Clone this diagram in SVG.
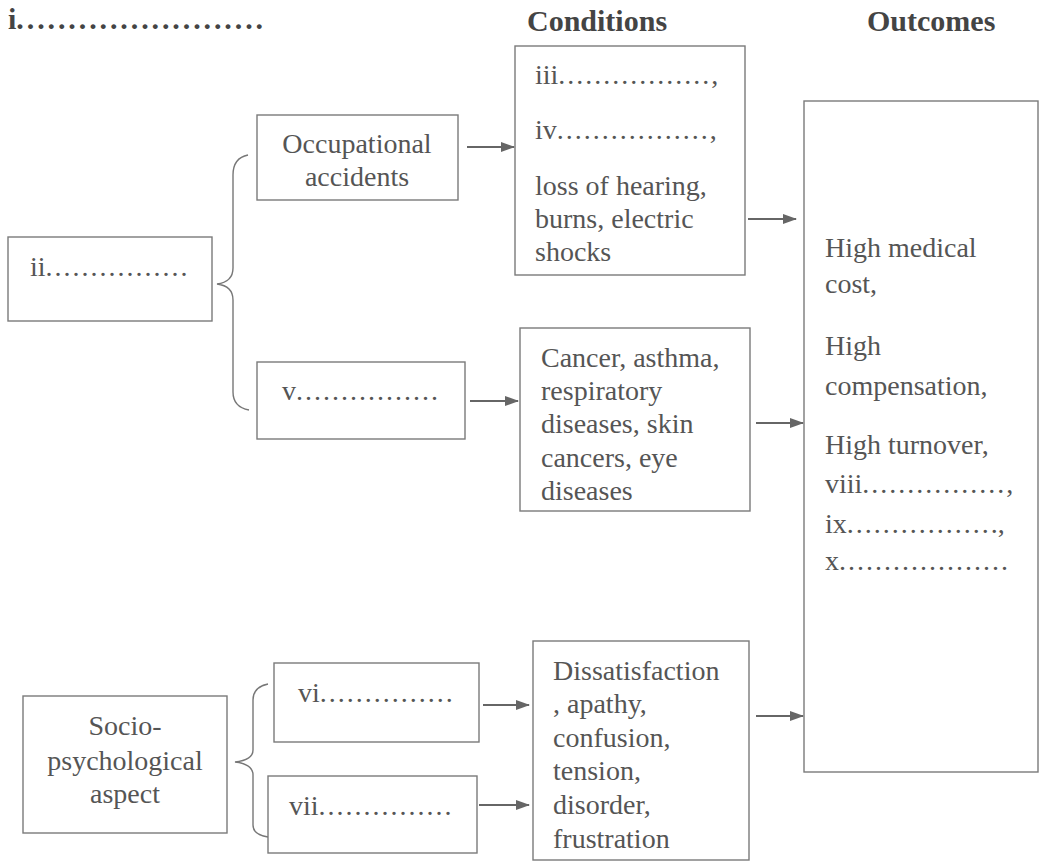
<svg xmlns="http://www.w3.org/2000/svg" width="1048" height="862" viewBox="0 0 1048 862">
<style>
.box{fill:#fff;stroke:#7a7a7a;stroke-width:1.4}
.t{font-family:"Liberation Serif","Times New Roman",serif;font-size:28px;fill:#555}
.c{text-anchor:middle}
.h{font-family:"Liberation Serif","Times New Roman",serif;font-size:30px;font-weight:bold;fill:#444}
.d{letter-spacing:2px}
.conn{stroke:#666;stroke-width:1.8;fill:none}
.brace{stroke:#777;stroke-width:1.4;fill:none}
</style>
<defs>
<marker id="ah" markerWidth="14" markerHeight="10" refX="13" refY="5" orient="auto" markerUnits="userSpaceOnUse">
<path d="M0,0 L14,5 L0,10 Z" fill="#666"/>
</marker>
</defs>
<rect width="1048" height="862" fill="#fff"/>

<g id="headers">
<text class="h" x="8" y="29">i<tspan letter-spacing="2.9">........................</tspan></text>
<text class="h" x="527" y="31">Conditions</text>
<text class="h" x="867" y="31">Outcomes</text>
</g>

<g id="node-ii">
<rect class="box" x="8" y="237" width="204" height="84"/>
<text class="t" x="30" y="276">ii<tspan class="d">................</tspan></text>
</g>

<g id="node-occupational">
<rect class="box" x="257" y="115" width="201" height="85"/>
<text class="t c" x="357" y="153">Occupational</text>
<text class="t c" x="357" y="186">accidents</text>
</g>

<g id="node-v">
<rect class="box" x="257" y="362" width="208" height="77"/>
<text class="t" x="282" y="400">v<tspan class="d">................</tspan></text>
</g>

<g id="node-conditions1">
<rect class="box" x="515" y="46" width="230" height="229"/>
<text class="t" x="535" y="84">iii<tspan class="d">.................</tspan>,</text>
<text class="t" x="535" y="139">iv<tspan class="d">.................</tspan>,</text>
<text class="t" x="535" y="195">loss of hearing,</text>
<text class="t" x="535" y="228">burns, electric</text>
<text class="t" x="535" y="261">shocks</text>
</g>

<g id="node-conditions2">
<rect class="box" x="520" y="328" width="230" height="183"/>
<text class="t" x="541" y="367">Cancer, asthma,</text>
<text class="t" x="541" y="400">respiratory</text>
<text class="t" x="541" y="433">diseases, skin</text>
<text class="t" x="541" y="467">cancers, eye</text>
<text class="t" x="541" y="500">diseases</text>
</g>

<g id="node-outcomes">
<rect class="box" x="804" y="101" width="234" height="671"/>
<text class="t" x="825" y="257">High medical</text>
<text class="t" x="825" y="293">cost,</text>
<text class="t" x="825" y="355">High</text>
<text class="t" x="825" y="395">compensation,</text>
<text class="t" x="825" y="454">High turnover,</text>
<text class="t" x="825" y="493">viii<tspan class="d">................</tspan>,</text>
<text class="t" x="825" y="533">ix<tspan class="d">................</tspan>.,</text>
<text class="t" x="825" y="570">x<tspan class="d">...................</tspan></text>
</g>

<g id="node-socio">
<rect class="box" x="23" y="696" width="204" height="137"/>
<text class="t c" x="125" y="735">Socio-</text>
<text class="t c" x="125" y="770">psychological</text>
<text class="t c" x="125" y="803">aspect</text>
</g>

<g id="node-vi">
<rect class="box" x="274" y="663" width="205" height="79"/>
<text class="t" x="298" y="702">vi<tspan class="d">...............</tspan></text>
</g>

<g id="node-vii">
<rect class="box" x="268" y="776" width="209" height="77"/>
<text class="t" x="289" y="815">vii<tspan class="d">...............</tspan></text>
</g>

<g id="node-conditions3">
<rect class="box" x="533" y="641" width="216" height="219"/>
<text class="t" x="553" y="680">Dissatisfaction</text>
<text class="t" x="553" y="713">, apathy,</text>
<text class="t" x="553" y="747">confusion,</text>
<text class="t" x="553" y="780">tension,</text>
<text class="t" x="553" y="814">disorder,</text>
<text class="t" x="553" y="848">frustration</text>
</g>

<g id="connectors">
<path class="brace" d="M248,155 Q233,158 233,175 L233,268 Q233,282 217,284 Q233,286 233,300 L233,392 Q233,407 249,410"/>
<path class="brace" d="M268,684 Q253,687 253,700 L253,750 Q253,760 235,762 Q253,764 253,775 L253,825 Q253,835 268,837"/>
<line class="conn" x1="467" y1="147" x2="514" y2="147" marker-end="url(#ah)"/>
<line class="conn" x1="470" y1="401" x2="518" y2="401" marker-end="url(#ah)"/>
<line class="conn" x1="748" y1="219" x2="796" y2="219" marker-end="url(#ah)"/>
<line class="conn" x1="756" y1="423" x2="803" y2="423" marker-end="url(#ah)"/>
<line class="conn" x1="483" y1="705" x2="529" y2="705" marker-end="url(#ah)"/>
<line class="conn" x1="479" y1="805" x2="529" y2="805" marker-end="url(#ah)"/>
<line class="conn" x1="756" y1="716" x2="803" y2="716" marker-end="url(#ah)"/>
</g>
</svg>
